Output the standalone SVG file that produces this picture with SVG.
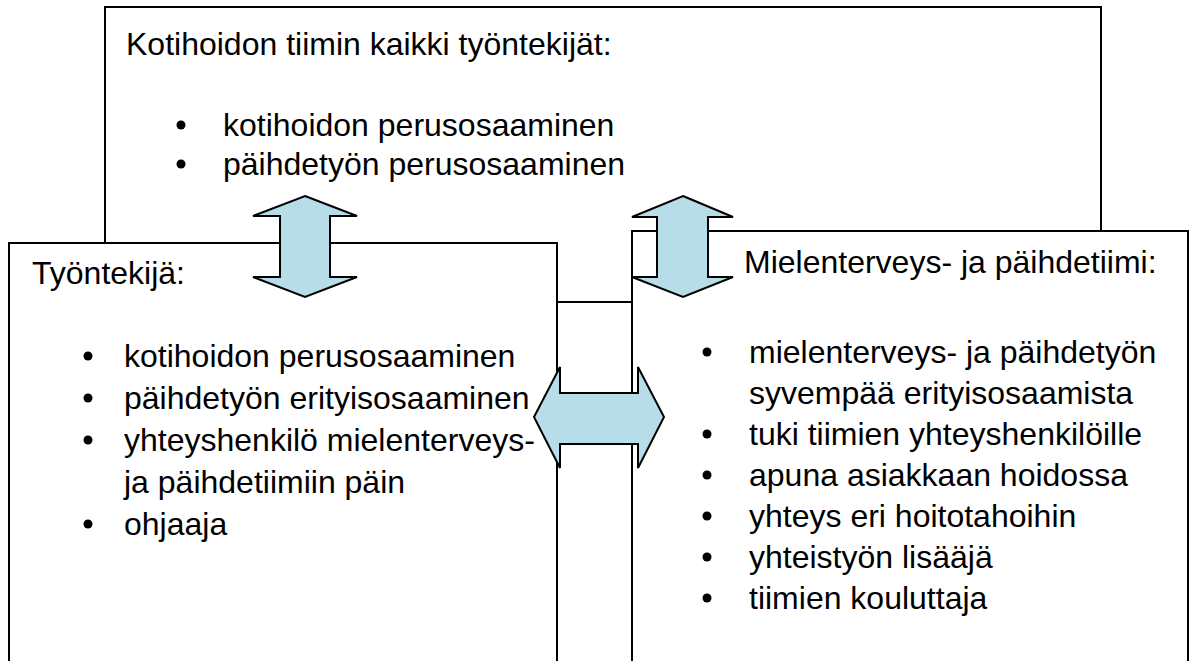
<svg xmlns="http://www.w3.org/2000/svg" width="1190" height="661" viewBox="0 0 1190 661">
<style>
.box{fill:#ffffff;stroke:#000000;stroke-width:2}
.arr{fill:#b7dde8;stroke:#000000;stroke-width:2;stroke-linejoin:miter}
text{font-family:"Liberation Sans",Arial,sans-serif;font-size:32px;fill:#000000}
.dot{fill:#000000}
</style>
<rect width="1190" height="661" fill="#ffffff"/>
<g id="node-kotihoito">
<rect class="box" x="105" y="7" width="996" height="295"/>
<text x="126" y="55">Kotihoidon tiimin kaikki työntekijät:</text>
<circle class="dot" cx="181" cy="125" r="4.5"/>
<text x="223" y="136">kotihoidon perusosaaminen</text>
<circle class="dot" cx="181" cy="164" r="4.5"/>
<text x="223" y="175">päihdetyön perusosaaminen</text>
</g>
<g id="node-tyontekija">
<rect class="box" x="9" y="243" width="548" height="440"/>
<text x="32" y="284">Työntekijä:</text>
<circle class="dot" cx="88" cy="356" r="4.5"/>
<text x="124" y="367">kotihoidon perusosaaminen</text>
<circle class="dot" cx="88" cy="398" r="4.5"/>
<text x="124" y="409">päihdetyön erityisosaaminen</text>
<circle class="dot" cx="88" cy="440" r="4.5"/>
<text x="124" y="451">yhteyshenkilö mielenterveys-</text>
<text x="124" y="493">ja päihdetiimiin päin</text>
<circle class="dot" cx="88" cy="524" r="4.5"/>
<text x="124" y="535">ohjaaja</text>
</g>
<g id="node-mielenterveys">
<rect class="box" x="632" y="231" width="556" height="450"/>
<text x="744" y="273">Mielenterveys- ja päihdetiimi:</text>
<circle class="dot" cx="707" cy="352" r="4.5"/>
<text x="749" y="363">mielenterveys- ja päihdetyön</text>
<text x="749" y="404">syvempää erityisosaamista</text>
<circle class="dot" cx="707" cy="434" r="4.5"/>
<text x="749" y="445">tuki tiimien yhteyshenkilöille</text>
<circle class="dot" cx="707" cy="475" r="4.5"/>
<text x="749" y="486">apuna asiakkaan hoidossa</text>
<circle class="dot" cx="707" cy="516" r="4.5"/>
<text x="749" y="527">yhteys eri hoitotahoihin</text>
<circle class="dot" cx="707" cy="557" r="4.5"/>
<text x="749" y="568">yhteistyön lisääjä</text>
<circle class="dot" cx="707" cy="598" r="4.5"/>
<text x="749" y="609">tiimien kouluttaja</text>
</g>
<g id="connectors">
<polygon class="arr" points="305,196 357,216 330,216 330,277 357,277 305,297 253,277 280,277 280,216 253,216"/>
<polygon class="arr" points="683,196 733,217 708,217 708,277 733,277 683,297 632,277 657,277 657,217 632,217"/>
<polygon class="arr" points="534,417 560,367 560,393 638,393 638,367 664,417 638,468 638,444 560,444 560,468"/>
</g>
</svg>
